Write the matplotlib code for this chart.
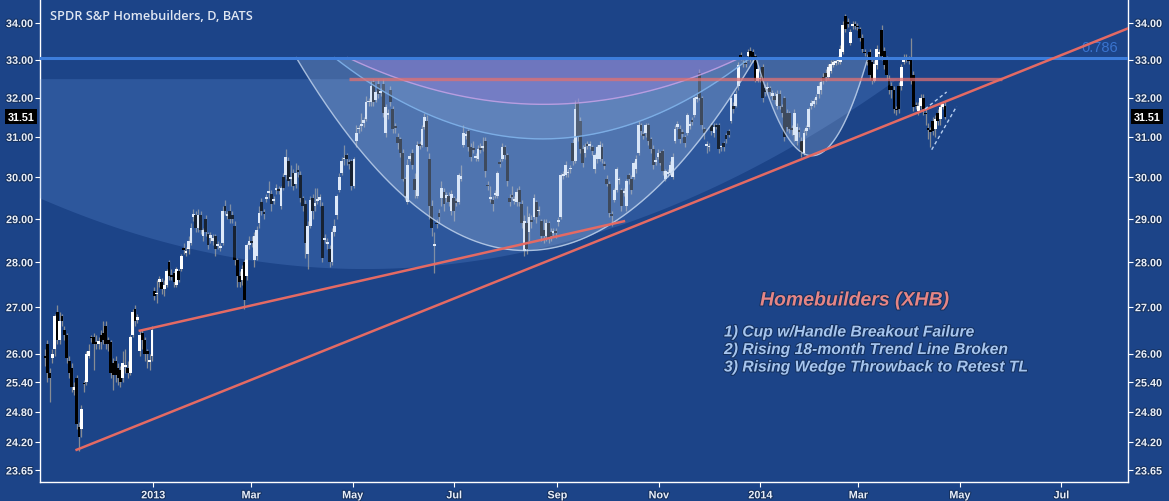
import numpy as np
import pandas as pd
import matplotlib
matplotlib.use('Agg')
import matplotlib.pyplot as plt
import matplotlib.dates as mdates
import matplotlib.transforms as mtransforms
import matplotlib.patheffects as pe
from matplotlib.ticker import FixedLocator, FixedFormatter, NullLocator

# daily candles, XHB
opens = [
    25.95, 26.2, 25.6, 25.9, 26.1, 26.9, 26.3, 26.8, 26.5, 26.4,
    25.85, 25.7, 25.25, 25.5, 24.5, 24.45, 25.38, 25.4, 25.95, 26.35,
    26.35, 26.25, 26.2, 26.4, 26.45, 26.6, 26.3, 26.25, 25.8, 25.85,
    25.7, 25.65, 25.5, 25.72, 25.7, 25.6, 26.4, 26.95, 26.72, 26.05,
    26.45, 26.3, 26.05, 25.83, 25.95, 27.35, 27.28, 27.55, 27.55, 27.4,
    27.5, 28.0, 27.72, 27.75, 27.5, 27.8, 27.85, 28.32, 28.22, 28.3,
    28.45, 29.05, 29.1, 28.8, 29.1, 28.6, 29.0, 28.65, 28.55, 28.5,
    28.6, 28.37, 28.33, 28.45, 29.3, 29.08, 29.2, 29.1, 28.85, 28.05,
    27.7, 27.6, 28.0, 27.7, 28.4, 28.5, 28.05, 28.15, 28.9, 29.4,
    29.17, 29.48, 29.62, 29.6, 29.42, 29.7, 29.72, 29.3, 30.0, 30.05,
    30.4, 29.97, 30.1, 29.85, 30.17, 30.05, 29.5, 29.35, 28.2, 28.85,
    29.5, 29.32, 29.43, 29.45, 29.3, 28.52, 28.43, 28.3, 28.0, 28.7,
    29.1, 29.7, 30.1, 30.44, 30.55, 30.37, 30.4, 29.8, 30.9, 31.19,
    31.27, 31.35, 31.45, 31.88, 31.9, 32.4, 31.95, 32.35, 32.12, 32.35,
    31.1, 31.55, 32.2, 31.7, 31.28, 31.0, 30.95, 30.6, 29.95, 29.4,
    30.45, 30.6, 29.95, 29.55, 30.82, 30.8, 31.25, 31.4, 30.45, 29.3,
    28.38, 28.92, 29.15, 29.5, 29.65, 29.5, 29.55, 29.2, 29.5, 29.42,
    29.4, 29.97, 30.8, 31.02, 31.15, 30.75, 30.72, 30.48, 30.45, 30.72,
    30.72, 30.9, 29.82, 29.48, 29.45, 29.58, 29.55, 30.37, 30.45, 30.75,
    30.55, 29.5, 29.57, 29.43, 29.4, 29.7, 29.35, 28.25, 28.9, 28.7,
    28.97, 29.05, 29.4, 29.18, 28.95, 28.75, 28.6, 28.9, 28.7, 28.68,
    28.72, 28.93, 29.05, 30.03, 30.05, 30.1, 30.2, 30.85, 30.4, 31.9,
    31.4, 30.7, 30.6, 30.82, 30.78, 30.75, 30.2, 30.45, 30.45, 30.75,
    30.32, 29.95, 29.85, 29.12, 29.45, 29.7, 29.93, 29.7, 29.63, 29.3,
    30.05, 29.95, 30.0, 30.2, 30.6, 31.3, 31.07, 31.1, 31.3, 30.95,
    30.7, 30.38, 30.5, 30.6, 30.65, 29.95, 30.08, 30.1, 30.0, 30.9,
    31.25, 31.2, 31.12, 31.0, 31.1, 31.28, 31.42, 31.55, 31.98, 32.65,
    32.0, 31.2, 30.78, 30.74, 31.3, 31.1, 31.3, 31.3, 30.74, 30.85,
    31.05, 31.15, 31.4, 31.8, 31.8, 32.3, 33.12, 32.92, 32.92, 33.1,
    33.25, 33.2, 33.1, 32.45, 32.48, 32.8, 32.25, 32.22, 32.25, 32.05,
    32.05, 31.8, 32.1, 31.75, 32.0, 31.6, 31.6, 31.22, 31.05, 30.9,
    31.18, 30.9, 30.6, 31.15, 31.25, 31.8, 31.85, 31.95, 32.1, 32.2,
    32.55, 32.65, 32.55, 32.7, 32.87, 32.92, 32.97, 32.95, 33.2, 34.2,
    34.03, 33.45, 33.92, 33.97, 33.92, 33.85, 33.6, 33.22, 33.05, 33.2,
    32.95, 32.45, 32.85, 33.15, 33.8, 33.25, 33.0, 32.5, 32.3, 32.2,
    31.72, 32.3, 32.3, 32.95, 33.02, 33.02, 33.05, 32.6, 31.82, 31.65,
    31.8, 32.0, 31.62, 31.22, 31.18, 31.4, 31.2, 31.6, 31.45, 31.77,
    31.8]

closes = [
    25.9, 25.6, 25.5, 26.0, 26.8, 26.3, 26.7, 26.7, 26.4, 25.9,
    25.6, 25.3, 25.3, 24.55, 24.3, 24.85, 25.36, 26.0, 26.05, 26.33,
    26.2, 26.2, 26.27, 26.25, 26.3, 26.2, 26.2, 25.6, 25.55, 25.55,
    25.5, 25.4, 25.8, 25.77, 25.6, 26.35, 26.9, 26.7, 26.78, 26.4,
    26.3, 26.0, 26.0, 25.87, 26.5, 27.25, 27.32, 27.62, 27.4, 27.5,
    27.8, 27.7, 27.68, 27.55, 27.85, 27.6, 28.15, 28.28, 28.27, 28.5,
    28.8, 29.12, 28.8, 29.1, 28.75, 28.75, 28.7, 28.4, 28.62, 28.57,
    28.3, 28.42, 28.38, 29.2, 29.2, 29.12, 29.0, 29.0, 28.05, 27.7,
    27.55, 27.85, 27.15, 28.4, 28.5, 28.45, 28.6, 28.75, 29.15, 29.2,
    29.13, 29.52, 29.67, 29.35, 29.47, 29.75, 29.68, 29.75, 29.75, 30.5,
    29.9, 30.02, 29.8, 30.1, 30.12, 29.5, 29.3, 28.45, 28.85, 29.45,
    29.2, 29.37, 29.47, 29.52, 28.1, 28.57, 28.47, 28.0, 28.7, 28.85,
    29.55, 30.0, 30.4, 30.46, 30.45, 30.33, 29.8, 30.45, 31.1, 31.21,
    31.32, 31.42, 31.9, 31.92, 32.3, 31.9, 32.15, 32.1, 32.17, 31.6,
    31.75, 31.62, 31.9, 31.2, 31.22, 30.85, 30.6, 29.95, 29.55, 30.3,
    30.52, 30.3, 29.7, 30.8, 30.78, 31.2, 31.5, 30.75, 29.3, 28.8,
    28.42, 28.88, 29.05, 29.75, 29.35, 29.57, 29.4, 29.6, 29.2, 29.38,
    30.05, 30.03, 31.1, 31.07, 30.75, 30.5, 30.68, 30.52, 30.7, 30.68,
    30.77, 30.15, 29.78, 29.52, 29.35, 29.62, 30.1, 30.33, 30.75, 30.55,
    29.9, 29.4, 29.53, 29.47, 29.65, 29.4, 28.9, 28.95, 28.3, 29.05,
    28.93, 29.5, 29.05, 29.22, 28.6, 28.6, 28.9, 28.55, 28.6, 28.72,
    28.68, 28.97, 30.05, 30.07, 30.3, 30.12, 30.22, 30.4, 31.7, 31.0,
    30.7, 30.35, 30.75, 30.78, 30.82, 30.65, 30.55, 30.75, 30.8, 30.45,
    30.28, 29.85, 29.15, 29.08, 29.7, 30.2, 29.97, 29.3, 29.67, 29.9,
    29.95, 29.7, 30.35, 30.45, 31.3, 31.15, 31.03, 31.3, 30.9, 30.7,
    30.3, 30.42, 30.6, 30.35, 30.15, 30.15, 30.12, 30.3, 30.5, 31.2,
    31.32, 30.95, 31.08, 30.85, 31.55, 31.32, 31.38, 32.0, 32.02, 32.0,
    31.3, 31.1, 30.82, 30.76, 31.15, 31.25, 31.25, 30.7, 30.76, 30.75,
    30.95, 31.05, 32.0, 31.7, 32.1, 32.85, 33.08, 32.88, 32.88, 33.2,
    33.05, 33.05, 32.45, 32.75, 32.52, 32.0, 32.15, 32.28, 32.15, 32.12,
    31.95, 32.1, 31.8, 31.6, 31.0, 31.25, 31.2, 31.18, 31.6, 31.25,
    31.12, 30.6, 31.1, 31.22, 31.7, 31.87, 31.92, 32.02, 32.3, 32.4,
    32.45, 32.55, 32.8, 32.9, 32.93, 32.98, 33.03, 33.3, 33.95, 33.85,
    33.97, 33.75, 33.97, 33.93, 33.88, 33.6, 33.3, 33.18, 32.95, 32.6,
    32.45, 32.9, 33.3, 33.22, 33.1, 32.85, 32.6, 32.2, 32.2, 31.7,
    31.68, 31.7, 32.8, 33.02, 33.07, 32.98, 32.45, 31.75, 31.78, 31.8,
    32.0, 31.7, 31.58, 31.18, 31.13, 31.15, 31.45, 31.4, 31.75, 31.83,
    31.51]

highs = [
    26.1, 26.3, 25.7, 26.1, 26.85, 27.05, 26.9, 26.85, 26.6, 26.45,
    25.95, 25.8, 25.4, 25.55, 24.6, 24.95, 25.45, 26.05, 26.2, 26.4,
    26.45, 26.4, 26.35, 26.5, 26.7, 26.7, 26.35, 26.3, 25.9, 25.95,
    25.8, 25.75, 26.05, 26.1, 25.85, 26.4, 26.95, 27.05, 26.85, 26.5,
    26.5, 26.35, 26.1, 26.0, 26.6, 27.45, 27.6, 27.7, 27.65, 27.6,
    27.85, 28.05, 27.85, 27.8, 27.9, 27.85, 28.2, 28.45, 28.35, 28.6,
    28.9, 29.25, 29.2, 29.25, 29.2, 28.8, 29.1, 28.7, 28.7, 28.65,
    28.65, 28.5, 28.45, 29.3, 29.45, 29.2, 29.35, 29.2, 28.95, 28.1,
    27.8, 27.95, 28.05, 28.45, 28.6, 28.6, 28.7, 28.85, 29.3, 29.5,
    29.25, 29.6, 29.9, 29.7, 29.55, 29.85, 29.8, 29.8, 30.1, 30.7,
    30.5, 30.3, 30.2, 30.35, 30.3, 30.15, 29.55, 29.45, 28.95, 29.55,
    29.6, 29.75, 29.75, 29.6, 29.4, 28.65, 28.55, 28.4, 28.8, 29.0,
    29.6, 30.1, 30.5, 30.8, 30.6, 30.45, 30.45, 30.5, 31.3, 31.3,
    31.6, 31.5, 32.05, 32.0, 32.45, 32.5, 32.2, 32.5, 32.25, 32.5,
    31.85, 31.7, 32.3, 31.8, 31.35, 31.1, 31.0, 30.7, 30.0, 30.45,
    30.6, 30.7, 30.1, 30.9, 30.9, 31.3, 31.6, 31.55, 30.6, 29.45,
    28.7, 29.0, 29.25, 29.9, 29.75, 29.65, 29.65, 29.7, 29.55, 29.5,
    30.1, 30.3, 31.3, 31.15, 31.2, 30.85, 30.9, 30.6, 30.8, 30.85,
    31.0, 31.0, 29.9, 29.8, 29.55, 29.7, 30.15, 30.45, 30.85, 30.8,
    30.6, 29.6, 29.8, 29.55, 29.75, 29.8, 29.45, 29.1, 29.3, 29.15,
    29.1, 29.6, 29.45, 29.3, 29.0, 29.0, 29.0, 28.95, 28.8, 28.8,
    28.8, 29.05, 30.1, 30.15, 30.4, 30.2, 30.3, 30.95, 31.95, 32.0,
    31.5, 30.8, 30.85, 30.9, 30.9, 30.8, 30.6, 30.8, 30.9, 30.85,
    30.4, 30.05, 29.9, 29.2, 29.75, 30.25, 30.0, 29.75, 29.75, 29.95,
    30.1, 30.05, 30.4, 30.55, 31.4, 31.35, 31.15, 31.35, 31.35, 31.0,
    30.8, 30.5, 30.7, 30.65, 30.7, 30.2, 30.2, 30.4, 30.6, 31.3,
    31.4, 31.3, 31.2, 31.05, 31.6, 31.4, 31.5, 32.05, 32.1, 32.75,
    32.05, 31.25, 30.9, 30.85, 31.35, 31.35, 31.35, 31.35, 30.8, 30.9,
    31.1, 31.2, 32.05, 31.9, 32.2, 32.95, 33.2, 33.0, 33.0, 33.3,
    33.35, 33.3, 33.15, 32.85, 32.6, 32.9, 32.35, 32.4, 32.3, 32.2,
    32.15, 32.2, 32.2, 31.85, 32.05, 31.7, 31.65, 31.3, 31.7, 31.35,
    31.25, 31.0, 31.2, 31.3, 31.75, 31.95, 32.0, 32.1, 32.4, 32.5,
    32.65, 32.75, 32.9, 33.0, 33.0, 33.05, 33.1, 33.4, 34.05, 34.25,
    34.15, 33.85, 34.05, 34.05, 34.0, 33.9, 33.7, 33.3, 33.15, 33.3,
    33.05, 33.0, 33.4, 33.3, 33.95, 33.35, 33.1, 32.6, 32.4, 32.3,
    31.8, 32.4, 32.9, 33.15, 33.15, 33.1, 33.6, 32.7, 31.9, 31.9,
    32.1, 32.1, 31.7, 31.35, 31.25, 31.5, 31.55, 31.7, 31.85, 31.9,
    31.9]

lows = [
    25.75, 25.4, 25.0, 25.8, 25.95, 26.2, 26.2, 26.6, 26.3, 25.8,
    25.5, 25.2, 25.15, 24.45, 24.03, 24.3, 25.2, 25.35, 25.9, 26.25,
    25.65, 26.1, 26.1, 26.1, 26.2, 26.1, 26.05, 25.5, 25.25, 25.4,
    25.35, 25.3, 25.4, 25.6, 25.5, 25.55, 26.35, 26.6, 26.65, 25.95,
    26.1, 25.85, 25.7, 25.65, 25.85, 27.15, 27.1, 27.45, 27.3, 27.25,
    27.45, 27.6, 27.6, 27.45, 27.45, 27.55, 27.8, 28.2, 28.15, 28.2,
    28.4, 28.95, 28.7, 28.7, 28.65, 28.5, 28.6, 28.3, 28.45, 28.4,
    28.15, 28.3, 28.25, 28.4, 29.1, 29.0, 28.9, 28.9, 27.95, 27.45,
    27.45, 27.5, 26.95, 27.6, 28.3, 28.35, 27.9, 28.05, 28.8, 29.1,
    29.0, 29.4, 29.5, 29.2, 29.35, 29.6, 29.6, 29.25, 29.7, 29.95,
    29.8, 29.8, 29.7, 29.75, 30.0, 29.4, 29.2, 28.1, 27.85, 28.8,
    29.0, 29.2, 29.35, 29.3, 28.0, 28.45, 28.3, 27.9, 27.95, 28.6,
    29.0, 29.65, 30.05, 30.3, 30.3, 30.2, 29.7, 29.75, 30.75, 31.1,
    31.15, 31.25, 31.4, 31.8, 31.8, 31.8, 31.9, 32.0, 32.05, 31.5,
    31.0, 31.45, 31.8, 31.1, 31.1, 30.7, 30.5, 29.9, 29.45, 29.35,
    30.4, 30.2, 29.5, 29.5, 30.7, 30.75, 31.2, 30.65, 29.0, 28.6,
    27.75, 28.8, 28.9, 29.3, 29.2, 29.4, 29.3, 29.1, 28.95, 29.3,
    29.35, 29.9, 30.75, 30.95, 30.65, 30.4, 30.6, 30.4, 30.4, 30.6,
    30.65, 30.0, 29.7, 29.4, 29.2, 29.5, 29.5, 30.25, 30.4, 30.45,
    29.8, 29.3, 29.45, 29.35, 29.3, 29.3, 28.8, 28.15, 28.2, 28.5,
    28.8, 29.0, 28.9, 29.1, 28.5, 28.45, 28.5, 28.45, 28.5, 28.6,
    28.55, 28.85, 29.0, 29.95, 30.0, 30.0, 30.1, 30.3, 30.35, 30.9,
    30.6, 30.25, 30.5, 30.7, 30.7, 30.55, 30.1, 30.35, 30.4, 30.35,
    30.2, 29.8, 29.05, 28.85, 29.4, 29.65, 29.85, 29.2, 29.55, 29.2,
    29.85, 29.6, 29.95, 30.1, 30.55, 31.05, 30.95, 31.0, 30.8, 30.6,
    30.2, 30.3, 30.45, 30.3, 30.05, 29.9, 30.0, 30.05, 29.95, 30.85,
    31.2, 30.85, 31.0, 30.75, 31.05, 31.2, 31.3, 31.5, 31.9, 31.95,
    31.2, 30.95, 30.6, 30.65, 31.05, 31.0, 31.2, 30.6, 30.65, 30.65,
    30.85, 31.0, 31.35, 31.6, 31.75, 32.2, 33.0, 32.8, 32.8, 33.0,
    32.95, 32.95, 32.4, 32.4, 32.4, 31.9, 32.05, 32.1, 32.05, 31.95,
    31.85, 31.7, 31.7, 31.5, 30.9, 31.15, 31.1, 31.05, 30.9, 30.8,
    31.0, 30.5, 30.55, 31.05, 31.2, 31.7, 31.75, 31.85, 32.0, 32.1,
    32.35, 32.45, 32.5, 32.65, 32.8, 32.85, 32.9, 32.9, 33.15, 33.75,
    33.9, 33.4, 33.85, 33.85, 33.8, 33.5, 33.2, 33.1, 32.85, 32.5,
    32.35, 32.4, 32.75, 33.05, 33.0, 32.75, 32.5, 32.1, 32.0, 31.6,
    31.55, 31.6, 32.2, 32.9, 32.95, 32.9, 32.35, 31.65, 31.7, 31.55,
    31.7, 31.55, 31.3, 30.95, 30.75, 31.05, 31.0, 31.3, 31.3, 31.7,
    31.45]

first_bar = '2012-10-28'
last_bar = '2014-04-22'
last_price = 31.51

price_ticks = [23.65, 24.20, 24.80, 25.40, 26.00, 27.00, 28.00, 29.00,
               30.00, 31.00, 32.00, 33.00, 34.00]
month_ticks = ['2013-01-01', '2013-03-01', '2013-05-01', '2013-07-01',
               '2013-09-01', '2013-11-01', '2014-01-01', '2014-03-01',
               '2014-05-01', '2014-07-01']
month_labels = ['2013', 'Mar', 'May', 'Jul', 'Sep', 'Nov',
                '2014', 'Mar', 'May', 'Jul']

# drawing tools on the chart (date, price)
trend_long = [('2012-11-16', 24.05), ('2014-01-31', 30.53)]
trend_short = [('2012-12-24', 26.49), ('2013-10-11', 28.95)]
resist = [('2013-04-29', 32.5), ('2014-05-26', 32.5)]
fib_786 = 33.06
wedge_up = [('2014-04-10', 31.71), ('2014-04-23', 32.15)]
wedge_dn = [('2014-04-14', 30.68), ('2014-04-29', 31.78)]
# arcs: centre date, half width (days), rim price, bottom price
big_arc = ('2013-05-08', 320, 32.5, 27.86)
cup_outer = ('2013-08-13', 138, 33.06, 28.27)
cup_mid = ('2013-08-23', 125, 33.06, 30.95)
cup_inner = ('2013-08-24', 118, 33.06, 31.83)
cup_handle = ('2014-02-01', 33.6, 33.06, 30.53)

BG = '#1c4488'
W, H = 1169, 502


def d2n(s):
    return mdates.date2num(pd.Timestamp(s))


def arc(spec, npts=300):
    c, half, rim, bottom = spec
    t = np.linspace(d2n(c) - half, d2n(c) + half, npts)
    u = 1 - ((t - d2n(c)) / half) ** 2
    p = np.exp(np.log(rim) + (np.log(bottom) - np.log(rim)) * u)
    return t, p, rim


def line_pts(pts):
    return [d2n(pts[0][0]), d2n(pts[1][0])], [pts[0][1], pts[1][1]]


def main():
    plt.rcParams['font.family'] = ['Liberation Sans', 'DejaVu Sans']
    fig = plt.figure(figsize=(W / 100, H / 100), dpi=100, facecolor=BG)
    ax = fig.add_axes([40 / W, 19 / H, 1088 / W, 483 / H], facecolor=BG)

    xmin, xmax = d2n('2012-10-25'), d2n('2014-08-10')
    ax.set_yscale('log')
    ax.set_xlim(xmin, xmax)
    ax.set_ylim(23.43, 34.67)

    n = min(len(opens), len(closes), len(highs), len(lows))
    o = np.array(opens[:n]); c = np.array(closes[:n])
    hi = np.array(highs[:n]); lo = np.array(lows[:n])
    x = mdates.date2num(pd.date_range(first_bar, last_bar, periods=n))
    step = x[1] - x[0]

    up = c >= o
    ax.vlines(x, lo, hi, color='#878c94', lw=0.9, zorder=2)
    bot = np.minimum(o, c)
    hgt = np.maximum(np.abs(c - o), 0.03)
    ax.bar(x, hgt, bottom=bot, width=step * 1.15,
           color=np.where(up, 'white', 'black'), lw=0, zorder=3,
           antialiased=False)

    # shaded arcs drawn on top of the series
    t, p, rim = arc(big_arc)
    ax.fill_between(t, p, rim, color='#6b9be6', alpha=0.22, lw=0, zorder=4)
    t, p, rim = arc(cup_outer)
    ax.fill_between(t, p, rim, color='#c9dcf7', alpha=0.22, lw=0, zorder=4)
    ax.plot(t, p, color='#c6d8f0', lw=1.0, alpha=0.8, zorder=5)
    t, p, rim = arc(cup_mid)
    ax.fill_between(t, p, rim, color='#a9c6ee', alpha=0.18, lw=0, zorder=4)
    ax.plot(t, p, color='#7fb2ea', lw=1.0, alpha=0.9, zorder=5)
    t, p, rim = arc(cup_inner)
    ax.fill_between(t, p, rim, color='#8f78d2', alpha=0.45, lw=0, zorder=4)
    ax.plot(t, p, color='#c9a6e8', lw=1.0, alpha=0.8, zorder=5)
    t, p, rim = arc(cup_handle)
    ax.fill_between(t, p, rim, color='#c9dcf7', alpha=0.22, lw=0, zorder=4)
    ax.plot(t, p, color='#c6d8f0', lw=1.0, alpha=0.8, zorder=5)

    # fib level
    ax.axhline(fib_786, color='#3d7ddb', lw=2.2, zorder=6)
    ax.text(xmax - 6, fib_786 * 1.003, '0.786', color='#3a74cf',
            fontsize=10.5, ha='right', va='bottom', zorder=6)

    # red lines
    rx, ry = line_pts(resist)
    ax.plot(rx, ry, color='#e07070', lw=2.4, alpha=0.75, zorder=6,
            solid_capstyle='butt')
    lx, ly = line_pts(trend_long)
    slope = (np.log(ly[1]) - np.log(ly[0])) / (lx[1] - lx[0])
    ax.plot([lx[0], xmax], [ly[0], ly[0] * np.exp(slope * (xmax - lx[0]))],
            color='#e46a64', lw=1.8, zorder=6)
    sx, sy = line_pts(trend_short)
    ax.plot(sx, sy, color='#e46a64', lw=1.8, zorder=6)

    for pts in (wedge_up, wedge_dn):
        wx, wy = line_pts(pts)
        ax.plot(wx, wy, color='#b8cff0', lw=1.0, ls=(0, (2.5, 2)), zorder=6)

    # axes styling
    ax.spines['top'].set_visible(False)
    for side in ('left', 'right', 'bottom'):
        ax.spines[side].set_color('white')
        ax.spines[side].set_linewidth(1.0)
    ax.yaxis.set_major_locator(FixedLocator(price_ticks))
    ax.yaxis.set_major_formatter(FixedFormatter(['%.2f' % v for v in price_ticks]))
    ax.yaxis.set_minor_locator(NullLocator())
    ax.set_xticks([d2n(m) for m in month_ticks])
    ax.set_xticklabels(month_labels)
    ax.tick_params(axis='y', which='both', left=True, right=True,
                   labelleft=True, labelright=True, colors='white',
                   length=3.5, width=0.8, pad=1.5, labelsize=7.8)
    ax.tick_params(axis='x', colors='white', length=3.5, width=0.8,
                   pad=2.5, labelsize=7.8)
    halo = [pe.withStroke(linewidth=1.5, foreground='#15315f')]
    for lab in ax.get_xticklabels() + ax.get_yticklabels():
        lab.set_fontweight('bold')
        lab.set_color('#e8eef8')
        lab.set_path_effects(halo)

    # last price boxes
    tr = mtransforms.blended_transform_factory(ax.transAxes, ax.transData)
    box = dict(boxstyle='square,pad=0.22', fc='black', ec='none')
    ax.text(-0.005, last_price, '%.2f' % last_price, transform=tr,
            ha='right', va='center', color='white', fontsize=7.8,
            fontweight='bold', bbox=box, zorder=10, clip_on=False)
    ax.text(1.005, last_price, '%.2f' % last_price, transform=tr,
            ha='left', va='center', color='white', fontsize=7.8,
            fontweight='bold', bbox=box, zorder=10, clip_on=False)

    fig.text(50 / W, 1 - 17 / H, 'SPDR S&P Homebuilders, D, BATS',
             color='#dfe6f2', fontsize=9.2, family='Open Sans',
             fontweight='semibold', va='center')

    fig.text(760 / W, 1 - 302 / H, 'Homebuilders (XHB)', color='#e58585',
             fontsize=14, fontweight='bold', style='italic', va='center',
             path_effects=halo)
    notes = ['1) Cup w/Handle Breakout Failure',
             '2) Rising 18-month Trend Line Broken',
             '3) Rising Wedge Throwback to Retest TL']
    for i, s in enumerate(notes):
        fig.text(724 / W, 1 - (333 + 17.5 * i) / H, s, color='#a6c5ee',
                 fontsize=11.3, fontweight='bold', style='italic', va='center',
                 path_effects=halo)

    fig.savefig('out.png', dpi=100, facecolor=BG)


if __name__ == '__main__':
    main()
